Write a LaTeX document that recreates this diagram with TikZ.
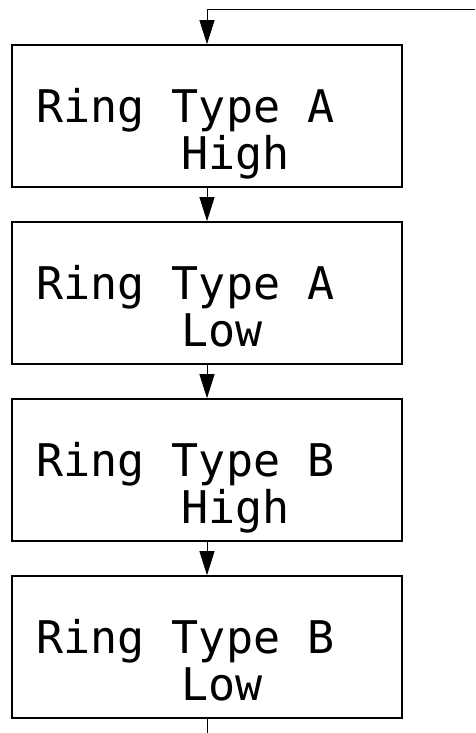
\documentclass[tikz,border=0pt]{standalone}
\usepackage{fontspec}
\newfontfamily\ringfont{DejaVu Sans Mono}
\usetikzlibrary{arrows.meta}
\tikzset{
  ringbox/.style={draw, line width=1.6pt, minimum width=390pt, minimum height=142pt, inner sep=0pt},
  ringtext/.style={anchor=north west, inner sep=0pt, align=left, font=\ringfont\fontsize{45}{47}\selectfont},
  flow/.style={line width=0.9pt, -{Triangle[length=24pt,width=15pt]}}
}
\begin{document}
\begin{tikzpicture}[x=1pt, y=1pt]
  \useasboundingbox (0,0) rectangle (475,733);
  % boxes
  \node[ringbox] (hiA) at (207,617) {};
  \node[ringbox] (loA) at (207,440) {};
  \node[ringbox] (hiB) at (207,263) {};
  \node[ringbox] (loB) at (207,86) {};
  % texts
  \node[ringtext] (thiA) at ([xshift=25pt, yshift=28pt]hiA.west) {Ring Type A\\\hspace*{145pt}High};
  \node[ringtext] (tloA) at ([xshift=25pt, yshift=28pt]loA.west) {Ring Type A\\\hspace*{145pt}Low};
  \node[ringtext] (thiB) at ([xshift=25pt, yshift=28pt]hiB.west) {Ring Type B\\\hspace*{145pt}High};
  \node[ringtext] (tloB) at ([xshift=25pt, yshift=28pt]loB.west) {Ring Type B\\\hspace*{145pt}Low};
  % loop ends
  \coordinate (loopin) at (475,724);
  \coordinate (loopout) at (207,0);
  % wiring
  \draw[flow] (loopin) -| (hiA.north);
  \draw[flow] (hiA.south) -- (loA.north);
  \draw[flow] (loA.south) -- (hiB.north);
  \draw[flow] (hiB.south) -- (loB.north);
  \draw[line width=0.9pt] (loB.south) -- (loopout);
\end{tikzpicture}
\end{document}
